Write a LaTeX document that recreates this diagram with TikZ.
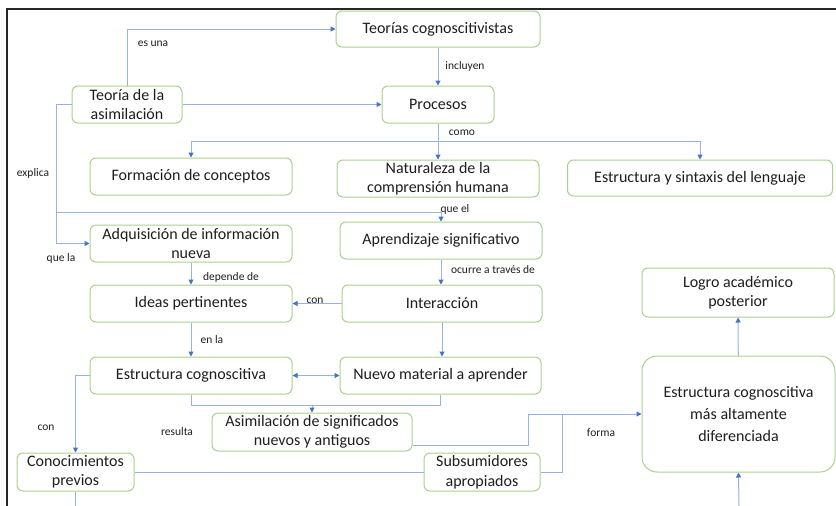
\documentclass[tikz,border=0pt]{standalone}
\usepackage{fontspec}
\setmainfont{Carlito}
\usepackage{tikz}
\usetikzlibrary{positioning,calc,arrows.meta}
\definecolor{boxgreen}{RGB}{169,209,142}
\definecolor{linkblue}{RGB}{150,178,226}
\definecolor{tipblue}{RGB}{68,114,196}
\definecolor{txtgray}{RGB}{30,30,30}

\begin{document}
\begin{tikzpicture}[x=1pt,y=-1pt,
    concept/.style={rectangle,rounded corners=6pt,draw=boxgreen,line width=1pt,fill=white,
      align=center,inner sep=1pt,text=txtgray,font=\fontsize{16}{19.5}\selectfont},
    link/.style={draw=linkblue,line width=1pt},
    arr/.style={link,-{Triangle[length=5pt,width=5pt,color=tipblue]}},
    lbl/.style={font=\fontsize{11.5}{13}\selectfont,text=txtgray,inner sep=1pt}]

\useasboundingbox (0,0) rectangle (836,506);
\draw[line width=1.2pt,black!85] (7,506) -- (7,9) -- (836,9);

% conceptos
\node[concept,minimum width=204pt,minimum height=36pt] (teorias) at (438,29) {Teorías cognoscitivistas};
\node[concept,minimum width=110pt,minimum height=37pt] (asimil) at (127,104.5) {Teoría de la\\asimilación};
\node[concept,minimum width=112pt,minimum height=37pt] (procesos) at (438,104.5) {Procesos};
\node[concept,minimum width=202pt,minimum height=37pt] (formacion) at (191,176.5) {Formación de conceptos};
\node[concept,minimum width=202pt,minimum height=37pt] (naturaleza) at (438,178.5) {Naturaleza de la\\comprensión humana};
\node[concept,minimum width=265pt,minimum height=36pt] (sintaxis) at (700,178) {Estructura y sintaxis del lenguaje};
\node[concept,minimum width=202pt,minimum height=37pt] (adquisicion) at (191,243.5) {Adquisición de información\\nueva};
\node[concept,minimum width=202pt,minimum height=37pt] (aprendizaje) at (441,240.5) {Aprendizaje significativo};
\node[concept,minimum width=202pt,minimum height=37pt] (ideas) at (191,303.5) {Ideas pertinentes};
\node[concept,minimum width=200pt,minimum height=37pt] (interaccion) at (442,303.5) {Interacción};
\node[concept,minimum width=192pt,minimum height=49pt] (logro) at (738,292.5) {Logro académico\\posterior};
\node[concept,minimum width=202pt,minimum height=37pt] (estructura) at (191,375.5) {Estructura cognoscitiva};
\node[concept,minimum width=201pt,minimum height=37pt] (nuevo) at (440.5,375.5) {Nuevo material a aprender};
\node[concept,minimum width=200pt,minimum height=38pt] (asimsig) at (312,432) {Asimilación de significados\\nuevos y antiguos};
\node[concept,rounded corners=15pt,minimum width=193pt,minimum height=116pt,
      font=\fontsize{16}{22}\selectfont] (estrdif) at (738.5,414) {Estructura cognoscitiva\\más altamente\\diferenciada};
\node[concept,minimum width=117pt,minimum height=38pt] (previos) at (75.5,472) {Conocimientos\\previos};
\node[concept,minimum width=116pt,minimum height=38pt] (subsum) at (482,472) {Subsumidores\\apropiados};

% puntos de paso
\coordinate (como) at (438,141);
\coordinate (expl) at (56,104.5);
\coordinate (queel) at (56,212);
\coordinate (resul) at (191,405);
\coordinate (forma) at (528,414);
\coordinate (subs) at (562,414);
\coordinate (abajo1) at (75.5,506);
\coordinate (abajo2) at (739,506);

% conectores
\draw[arr] (asimil.north) |- (teorias.west);
\draw[arr] (asimil) -- (procesos);
\draw[arr] (teorias) -- (procesos);
\draw[link] (procesos) -- (como);
\draw[arr] (como) -| (formacion.north);
\draw[arr] (como) -- (naturaleza);
\draw[arr] (como) -| (sintaxis.north);
\draw[link] (asimil.west) -- (expl);
\draw[arr] (expl) |- (adquisicion.west);
\draw[arr] (queel) -| (aprendizaje.north);
\draw[arr] (adquisicion) -- (ideas);
\draw[arr] (interaccion) -- (ideas);
\draw[arr] (aprendizaje.south) -- (aprendizaje.south |- interaccion.north);
\draw[arr] (ideas) -- (estructura);
\draw[{Triangle[length=5pt,width=5pt,color=tipblue]}-{Triangle[length=5pt,width=5pt,color=tipblue]},link] (estructura) -- (nuevo);
\draw[arr] (interaccion.south) -- (interaccion.south |- nuevo.north);
\draw[link] (estructura.south) -- (resul) -| (nuevo.south);
\draw[arr] (asimsig.north |- resul) -- (asimsig.north);
\draw[arr] (estructura.west) -| (previos.north);
\draw[link] (previos) -- (abajo1);
\draw[link] (previos) -- (subsum);
\draw[link] ($(asimsig.east)+(0,13)$) -| (forma);
\draw[link] (subsum.east) -| (subs);
\draw[arr] (forma) -- (estrdif.west);
\draw[arr] (estrdif) -- (logro);
\draw[arr] (abajo2) -- (estrdif.south);

% etiquetas
\node[lbl] at (153,44) {es una};
\node[lbl] at (465,66) {incluyen};
\node[lbl] at (462,133) {como};
\node[lbl] at (33,173) {explica};
\node[lbl] at (61,258) {que la};
\node[lbl] at (455,209) {que el};
\node[lbl] at (231,277) {depende de};
\node[lbl] at (315,301) {con};
\node[lbl] at (493,270) {ocurre a través de};
\node[lbl] at (212,340) {en la};
\node[lbl] at (177,432) {resulta};
\node[lbl] at (46,428) {con};
\node[lbl] at (601,433) {forma};

\end{tikzpicture}
\end{document}
